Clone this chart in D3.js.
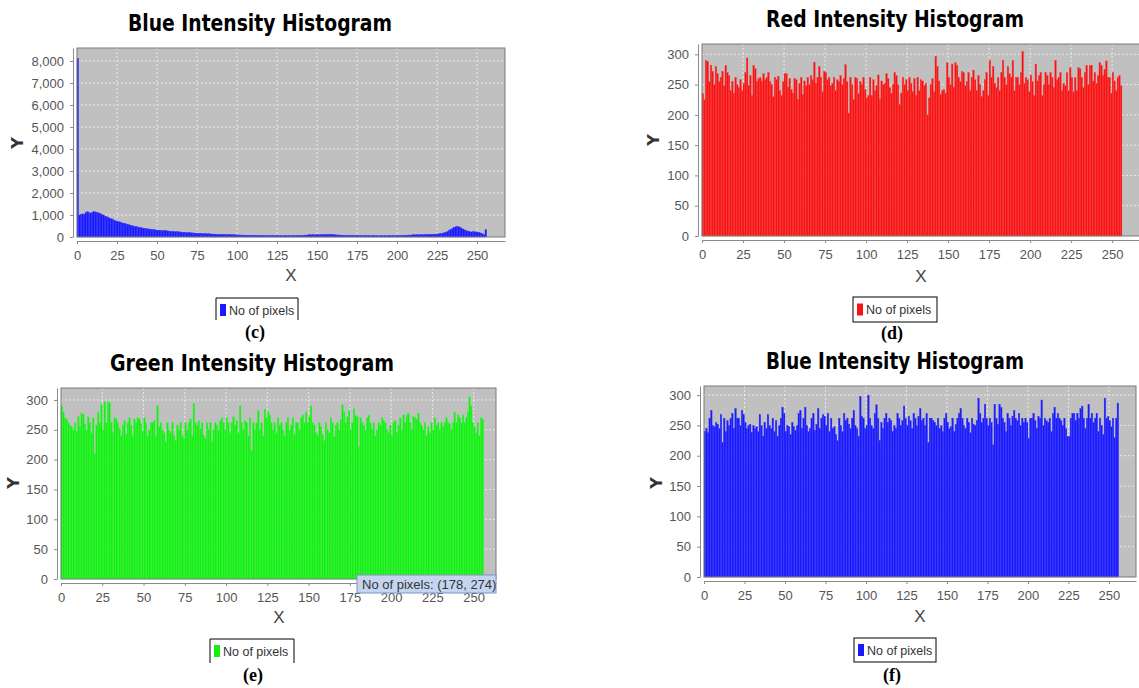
<!DOCTYPE html>
<html><head><meta charset="utf-8">
<script src="https://cdn.jsdelivr.net/npm/d3@7"></script>
<style>body{margin:0;background:#fff}svg{display:block}</style>
</head><body>
<svg id="fig" width="1139" height="688"></svg>
<script>
// ---------------- DATA ----------------
const xTicks = [0,25,50,75,100,125,150,175,200,225,250];
const yTicksBig = [0,1000,2000,3000,4000,5000,6000,7000,8000];
const yTicksSmall = [0,50,100,150,200,250,300];
const seriesName = "No of pixels";
const titles = ["Blue Intensity Histogram","Red Intensity Histogram","Green Intensity Histogram","Blue Intensity Histogram"];
const captions = ["(c)","(d)","(e)","(f)"];
const tooltipBin = 178;

const blueC = [
8120,1000,1020,1050,1040,1100,1150,1120,1090,1130,1160,1140,1120,1100,1060,1030,
1000,960,930,890,860,830,800,760,730,710,690,660,640,620,600,580,
560,540,520,500,480,470,450,430,420,400,390,380,370,360,350,340,
330,320,315,310,300,295,300,290,280,270,265,255,250,245,240,235,
230,225,215,210,205,200,195,190,185,180,175,170,168,165,160,155,
150,148,145,140,138,135,130,128,125,122,120,118,115,112,110,108,
105,102,100,98,95,92,90,88,86,85,84,82,80,80,78,76,
75,74,73,72,70,70,68,68,66,66,65,64,64,63,62,62,
60,60,60,62,62,63,64,65,66,68,70,72,75,80,85,90,
95,98,100,102,100,98,100,102,105,108,110,112,115,110,120,115,
108,100,95,92,88,85,82,80,78,76,75,74,72,72,70,70,
68,68,66,66,65,64,64,63,62,62,61,60,60,60,60,60,
60,61,62,62,63,64,65,66,68,70,72,75,78,80,85,90,
92,95,98,100,102,105,108,110,112,115,118,120,122,125,128,130,
135,140,150,160,175,195,220,250,290,340,380,420,460,480,470,440,
400,360,320,290,260,240,230,235,240,230,220,210,180,150,100,330];

const redD = [
235,225,290,288,255,282,272,250,280,268,255,262,272,248,282,270,
265,240,255,236,262,250,245,258,240,252,270,294,248,265,232,282,
276,255,260,262,256,268,258,262,270,255,250,230,262,258,264,240,
232,255,268,268,246,260,242,236,260,258,226,252,262,234,256,248,
262,250,265,258,287,252,262,280,262,238,272,270,258,262,248,252,
262,240,258,255,265,250,260,283,255,203,262,250,225,262,260,235,
255,250,262,242,228,232,262,232,258,240,248,266,226,256,250,252,
268,260,245,236,250,270,265,250,217,236,262,250,258,240,262,252,
238,260,232,262,240,258,256,248,252,200,228,250,260,238,297,280,
256,234,240,242,236,286,262,250,284,245,286,282,262,255,272,270,
248,255,270,240,262,274,258,240,265,250,230,240,258,270,232,290,
262,280,252,245,262,240,270,290,262,250,280,268,262,290,240,262,
262,250,270,305,252,262,258,238,266,255,232,284,256,265,270,232,
250,270,265,250,270,262,245,290,258,262,270,240,252,248,270,240,
278,262,238,262,240,278,276,262,245,270,282,250,282,282,256,270,
252,265,286,282,265,275,289,262,262,236,270,256,240,262,265,248];

const greenE = [
290,280,270,268,262,258,255,250,262,248,272,255,278,276,260,250,
272,262,245,270,210,258,280,262,292,250,297,262,297,296,262,245,
270,268,262,252,240,258,265,242,262,270,258,240,268,262,270,268,
260,248,270,262,240,250,262,262,265,240,290,255,262,250,245,230,
262,250,245,262,240,232,258,250,262,240,236,262,250,262,268,240,
294,262,258,265,252,262,240,235,262,250,262,230,250,262,258,250,
265,270,262,250,270,262,245,262,272,258,265,245,290,262,250,265,
262,240,270,215,262,250,262,282,250,262,240,285,270,280,275,262,
250,262,245,270,258,262,250,240,262,270,250,258,270,242,262,262,
250,270,275,262,280,262,272,290,262,258,245,240,262,255,242,232,
262,250,245,270,262,238,258,262,250,268,292,280,262,272,282,250,
262,285,274,272,222,270,262,258,250,270,275,262,250,262,240,250,
262,258,270,265,262,250,245,258,240,262,265,245,258,270,250,275,
262,275,278,262,250,272,270,268,278,262,258,250,262,240,255,245,
262,250,270,258,262,250,262,255,262,270,262,260,250,262,280,262,
275,270,262,275,262,270,280,305,290,262,255,245,262,240,270,268];

const blueF = [
240,245,238,262,275,250,248,255,252,245,268,222,262,240,258,250,
262,270,245,278,262,262,250,275,268,255,245,250,252,238,250,245,
248,240,268,250,232,255,245,268,250,245,262,240,258,232,250,262,
280,270,240,250,248,235,255,248,242,250,270,275,245,262,280,250,
240,245,262,270,242,252,278,245,262,268,265,250,270,240,262,245,
248,235,225,262,250,240,270,258,262,252,245,262,275,250,245,232,
298,265,262,245,250,300,262,250,245,270,284,262,225,255,245,262,
270,255,262,258,240,250,245,270,262,250,258,282,262,250,265,258,
245,270,262,250,265,278,258,262,250,270,222,262,262,258,255,250,
262,245,250,240,262,270,255,245,248,262,240,252,262,270,278,262,
250,245,262,255,238,262,252,250,258,295,270,255,262,285,262,250,
262,255,218,285,262,252,285,280,262,255,240,270,262,250,265,275,
262,258,270,250,262,255,262,255,228,262,262,270,258,245,265,262,
292,250,262,258,255,262,240,270,280,262,270,262,258,250,262,245,
232,232,262,270,270,258,270,262,278,282,262,245,262,285,262,270,
255,262,270,240,262,250,235,295,262,265,258,248,262,230,262,287];

// ---------------- LAYOUT ----------------
const panels = [
 {values:blueC, color:"#1a1aff", edge:"#3a3aff", yTicks:yTicksBig, yFmt:d3.format(","),
  l:77,t:48,r:505,b:237, xMax:267.5, yMax:8590,
  title:{cx:260, y:31, w:264}, xl:{cx:291,y:281}, yl:{cx:18,cy:143},
  leg:{x:216,y:298,w:82,h:22,open:true}, cap:{cx:255,y:338}},
 {values:redD, color:"#f81212", edge:"#ff4040", yTicks:yTicksSmall, yFmt:d3.format("d"),
  l:702,t:44,r:1140,b:236, xMax:267, yMax:317,
  title:{cx:895, y:27, w:258}, xl:{cx:921,y:282}, yl:{cx:654,cy:140},
  leg:{x:853,y:297,w:84,h:25,open:false}, cap:{cx:892,y:339}},
 {values:greenE, color:"#12f012", edge:"#40f840", yTicks:yTicksSmall, yFmt:d3.format("d"),
  l:61,t:388,r:496,b:579, xMax:263.5, yMax:320,
  title:{cx:252, y:371, w:284}, xl:{cx:279,y:623}, yl:{cx:14,cy:483},
  leg:{x:210,y:639,w:84,h:24,open:true}, cap:{cx:253,y:681}},
 {values:blueF, color:"#1a1aff", edge:"#3a3aff", yTicks:yTicksSmall, yFmt:d3.format("d"),
  l:704,t:386,r:1136,b:577, xMax:266.7, yMax:315,
  title:{cx:895, y:369, w:258}, xl:{cx:920,y:622}, yl:{cx:657,cy:483},
  leg:{x:854,y:638,w:82,h:24,open:false}, cap:{cx:892,y:681}}
];

const svg = d3.select("#fig");
const tickFont = "'Liberation Sans', Arial, sans-serif";

panels.forEach((p, k) => {
  const g = svg.append("g");
  const x = d3.scaleLinear().domain([0, p.xMax]).range([p.l, p.r]);
  const y = d3.scaleLinear().domain([0, p.yMax]).range([p.b, p.t]);

  g.append("rect").attr("x", p.l).attr("y", p.t).attr("width", p.r - p.l).attr("height", p.b - p.t)
    .attr("fill", "#c0c0c0");

  g.selectAll(".vg").data(xTicks.filter(d => d > 0)).join("line")
    .attr("x1", d => x(d)).attr("x2", d => x(d)).attr("y1", p.t).attr("y2", p.b)
    .attr("stroke", "#f2f2f2").attr("stroke-width", 0.8).attr("stroke-dasharray", "2,2");
  g.selectAll(".hg").data(p.yTicks.filter(d => d > 0)).join("line")
    .attr("x1", p.l).attr("x2", p.r).attr("y1", d => y(d)).attr("y2", d => y(d))
    .attr("stroke", "#f2f2f2").attr("stroke-width", 0.8).attr("stroke-dasharray", "2,2");

  g.selectAll(".bar").data(p.values).join("rect")
    .attr("x", (d, i) => x(i)).attr("width", (d, i) => x(i + 1) - x(i))
    .attr("y", d => y(d)).attr("height", d => p.b - y(d))
    .attr("fill", p.color).attr("stroke", p.edge).attr("stroke-width", 0.3);

  g.append("rect").attr("x", p.l).attr("y", p.t).attr("width", p.r - p.l).attr("height", p.b - p.t)
    .attr("fill", "none").attr("stroke", "#7a7a7a").attr("stroke-width", 1);

  const xa = g.append("g").attr("transform", `translate(0,${p.b + 4})`)
    .call(d3.axisBottom(x).tickValues(xTicks).tickSize(3).tickSizeOuter(0).tickPadding(7).tickFormat(d3.format("d")));
  const ya = g.append("g").attr("transform", `translate(${p.l - 4},0)`)
    .call(d3.axisLeft(y).tickValues(p.yTicks).tickSize(3).tickSizeOuter(0).tickPadding(6).tickFormat(p.yFmt));
  [xa, ya].forEach(a => {
    a.select(".domain").attr("stroke", "#8a8a8a");
    a.selectAll(".tick line").attr("stroke", "#8a8a8a");
    a.selectAll(".tick text").attr("fill", "#555").style("font-family", tickFont).style("font-size", "13px");
  });

  g.append("text").attr("x", p.xl.cx).attr("y", p.xl.y).attr("text-anchor", "middle")
    .style("font-family", tickFont).style("font-size", "17px").attr("fill", "#444").text("X");
  g.append("text").attr("transform", `translate(${p.yl.cx + 5},${p.yl.cy}) rotate(-90)`).attr("text-anchor", "middle")
    .style("font-family", "'DejaVu Sans', sans-serif").style("font-size", "16px").style("font-weight", "bold")
    .attr("fill", "#333").text("Y");

  g.append("text").attr("x", p.title.cx - p.title.w / 2).attr("y", p.title.y)
    .attr("textLength", p.title.w).attr("lengthAdjust", "spacingAndGlyphs")
    .style("font-family", "'DejaVu Sans', sans-serif").style("font-size", "23px").style("font-weight", "bold")
    .attr("fill", "#000").text(titles[k]);

  const L = p.leg;
  if (L.open) {
    g.append("path").attr("d", `M${L.x},${L.y + L.h}V${L.y}H${L.x + L.w}V${L.y + L.h}`)
      .attr("fill", "none").attr("stroke", "#000").attr("stroke-width", 1);
  } else {
    g.append("rect").attr("x", L.x).attr("y", L.y).attr("width", L.w).attr("height", L.h)
      .attr("fill", "none").attr("stroke", "#000").attr("stroke-width", 1);
  }
  const lc = L.y + (L.open ? 12 : L.h / 2);
  g.append("rect").attr("x", L.x + 4).attr("y", lc - 6).attr("width", 6).attr("height", 12).attr("fill", p.color);
  g.append("text").attr("x", L.x + 13).attr("y", lc + 4.5)
    .style("font-family", tickFont).style("font-size", "12.5px").attr("fill", "#333").text(seriesName);

  g.append("text").attr("x", p.cap.cx).attr("y", p.cap.y).attr("text-anchor", "middle")
    .style("font-family", "'Liberation Serif', 'Times New Roman', serif").style("font-size", "18px")
    .style("font-weight", "bold").attr("fill", "#000").text(captions[k]);

  if (k === 2) {
    const tip = g.append("g");
    tip.append("rect").attr("x", 357).attr("y", 575).attr("width", 139).attr("height", 18)
      .attr("fill", "#c6d5ef").attr("stroke", "#7f93c2").attr("stroke-width", 1);
    tip.append("text").attr("x", 362).attr("y", 588.5)
      .style("font-family", tickFont).style("font-size", "13px").attr("fill", "#333")
      .text(`${seriesName}: (${tooltipBin}, ${p.values[tooltipBin]})`);
  }
});
</script>
</body></html>
